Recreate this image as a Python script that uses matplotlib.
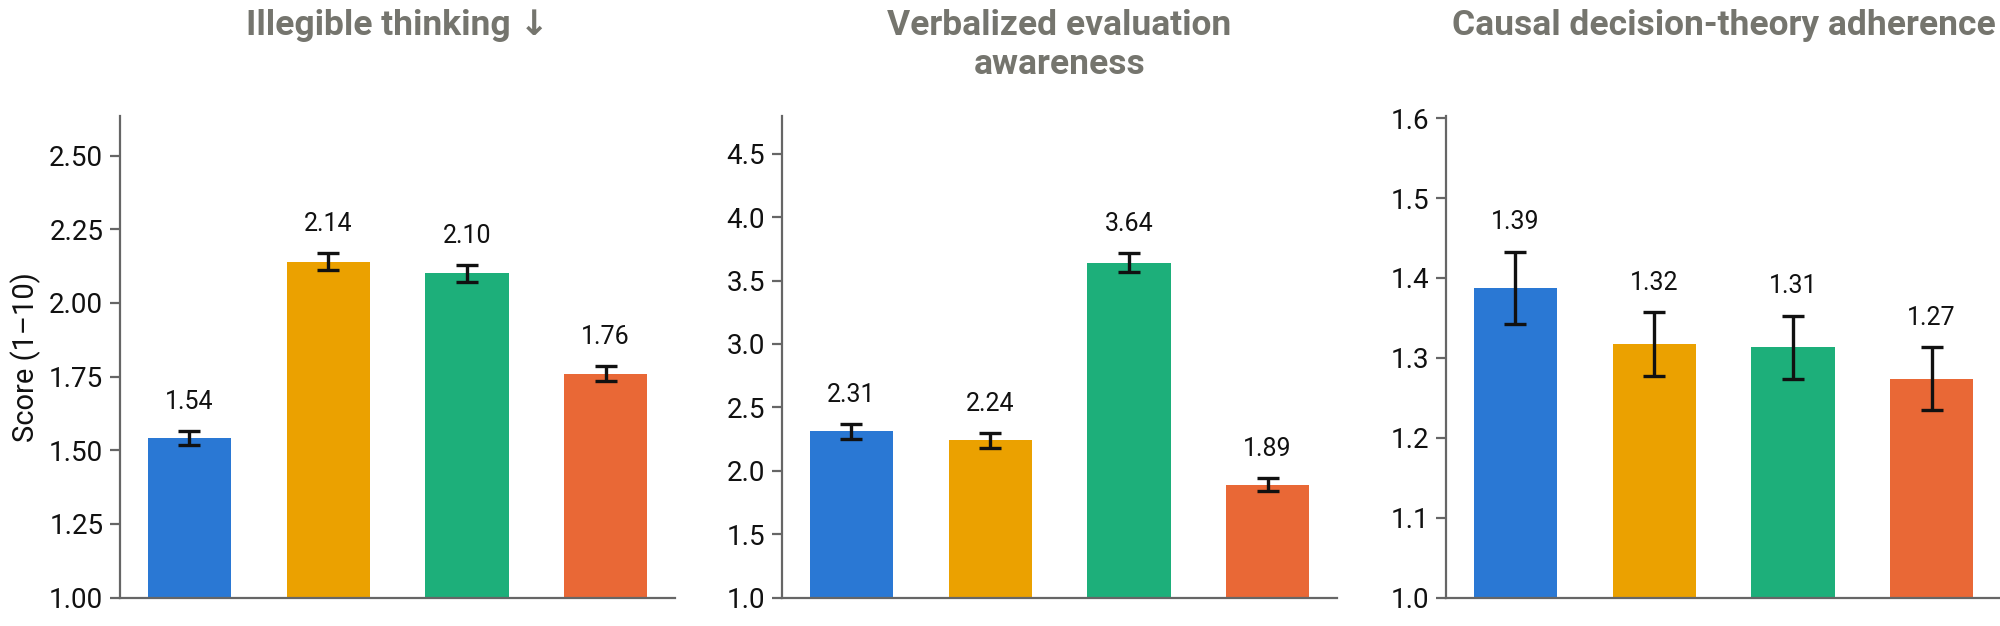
import numpy as np
import matplotlib
matplotlib.use('Agg')
import matplotlib.pyplot as plt

plt.rcParams['font.family'] = ['Roboto', 'DejaVu Sans']

titles = ['Illegible thinking \u2193', 'Verbalized evaluation\nawareness',
          'Causal decision-theory adherence']
colors = ['#2A78D4', '#EBA100', '#1DAF7A', '#E96836']

illegible = [1.54, 2.14, 2.10, 1.76]
illegible_err = [0.024, 0.028, 0.028, 0.026]
eval_aware = [2.31, 2.24, 3.64, 1.89]
eval_aware_err = [0.058, 0.058, 0.074, 0.052]
cdt = [1.388, 1.317, 1.313, 1.274]
cdt_err = [0.045, 0.040, 0.040, 0.039]

series = [(illegible, illegible_err), (eval_aware, eval_aware_err), (cdt, cdt_err)]
ylims = [(1.0, 2.635), (1.0, 4.8), (1.0, 1.603)]
yticks = [np.arange(1.0, 2.51, 0.25), np.arange(1.0, 4.51, 0.5), np.arange(1.0, 1.61, 0.1)]
tickfmt = ['{:.2f}', '{:.1f}', '{:.1f}']

fig = plt.figure(figsize=(20, 6.26), dpi=100)
lefts = [0.060, 0.391, 0.723]
spine_c = '#666666'
title_c = '#75756E'

for i in range(3):
    ax = fig.add_axes([lefts[i], 0.0455, 0.2775, 0.7695])
    vals, errs = series[i]
    x = np.arange(len(vals))
    ax.bar(x, vals, width=0.6, color=colors, zorder=2)
    ax.errorbar(x, vals, yerr=errs, fmt='none', ecolor='#111111',
                elinewidth=2.4, capsize=7.8, capthick=2.4, zorder=3)
    for xi, v, e in zip(x, vals, errs):
        ax.annotate('{:.2f}'.format(v), (xi, v + e), xytext=(0, 21),
                    textcoords='offset points', ha='center', va='center',
                    fontsize=18, color='#111111')
    ax.set_xlim(-0.5, 3.5)
    ax.set_ylim(*ylims[i])
    ax.set_yticks(yticks[i])
    ax.set_yticklabels([tickfmt[i].format(t) for t in yticks[i]])
    ax.set_xticks([])
    for s in ['top', 'right']:
        ax.spines[s].set_visible(False)
    for s in ['left', 'bottom']:
        ax.spines[s].set_color(spine_c)
        ax.spines[s].set_linewidth(1.6)
    ax.tick_params(axis='y', length=7, width=1.6, color=spine_c,
                   labelsize=20, pad=5, labelcolor='#111111')
    if i == 0:
        ax.set_ylabel('Score (1\u201310)', fontsize=21, labelpad=6, color='#111111')
    cx = lefts[i] + 0.2775 / 2
    fig.text(cx, 0.985, titles[i], ha='center', va='top', fontsize=25.5,
             fontweight='bold', color=title_c, linespacing=1.2)

fig.savefig('out.png', dpi=100)
